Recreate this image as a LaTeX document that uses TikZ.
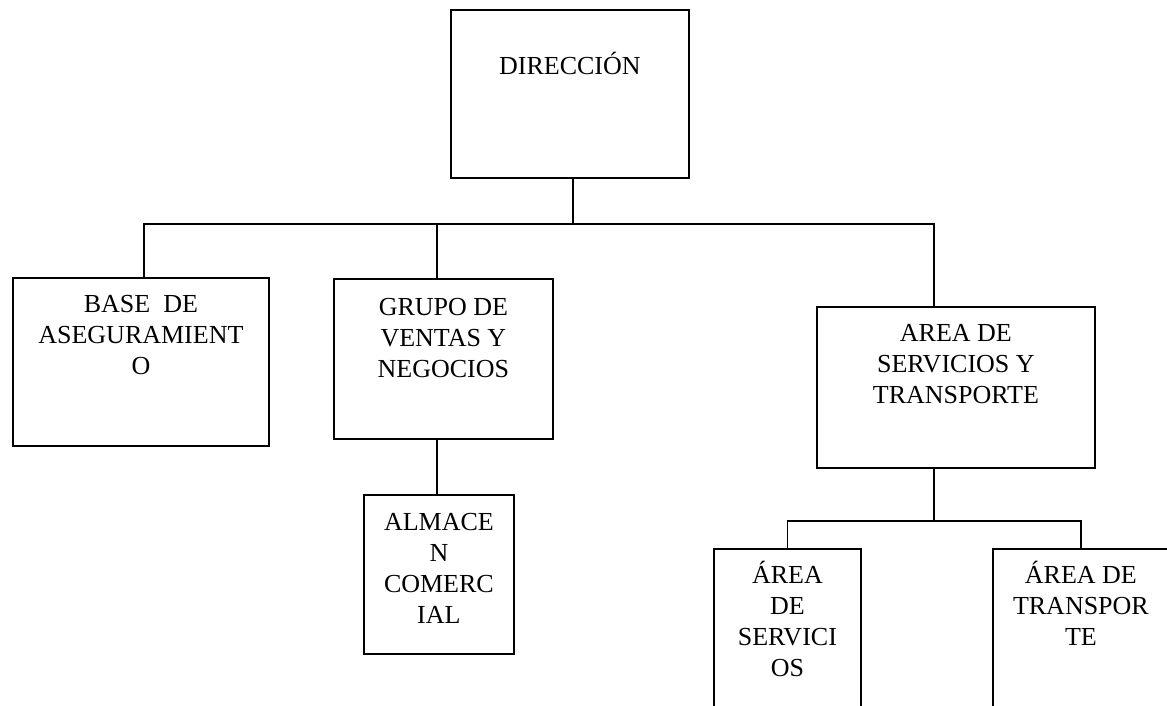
\documentclass[tikz,border=0pt]{standalone}
\usepackage{fontspec}
\setmainfont{Liberation Serif}

% text of a box: width, height, top gap, lines
\newcommand{\orgtext}[4]{\parbox[t][#2pt][t]{#1pt}{\centering\vspace*{#3pt}\rule{0pt}{24pt}#4}}

\tikzset{
  orgbox/.style={draw, line width=1.8pt, inner sep=0pt, anchor=north west,
    font=\fontsize{26}{30.8}\selectfont},
  conn/.style={line width=1.8pt}
}

\begin{document}
\begin{tikzpicture}[x=1pt, y=-1pt]
\useasboundingbox (0,0) rectangle (1167,706);
\clip (0,0) rectangle (1167,706);

\node[orgbox] (dir) at (450,9) {\orgtext{238}{168}{41}{DIRECCIÓN}};
\node[orgbox] (base) at (12,277) {\orgtext{256}{168}{11}{BASE\ \ DE\\ASEGURAMIENT\\O}};
\node[orgbox] (grupo) at (333,278) {\orgtext{219}{160}{13}{GRUPO DE\\VENTAS Y\\NEGOCIOS}};
\node[orgbox] (area) at (816,306) {\orgtext{278}{161}{11}{AREA DE\\SERVICIOS Y\\TRANSPORTE}};
\node[orgbox] (almacen) at (363,494) {\orgtext{150}{159}{12}{ALMACE\\N\\COMERC\\IAL}};
\node[orgbox] (serv) at (713,548) {\orgtext{147}{200}{11}{ÁREA\\DE\\SERVICI\\OS}};
\node[orgbox] (trans) at (992,548) {\orgtext{176}{200}{11}{ÁREA DE\\TRANSPOR\\TE}};

% where the lines meet the boxes
\coordinate (bus) at (0,224);
\coordinate (subbus) at (0,521);
\coordinate (dirout) at ([xshift=3pt]dir.south);
\coordinate (basein) at ([xshift=3pt]base.north);
\coordinate (grupoin) at ([xshift=-6.5pt]grupo.north);
\coordinate (grupoout) at ([xshift=-6.5pt]grupo.south);
\coordinate (areain) at ([xshift=-22pt]area.north);
\coordinate (areaout) at ([xshift=-22pt]area.south);

\draw[conn] (dirout) -- (dirout |- bus);
\draw[conn] (basein) -- (basein |- bus) -- (areain |- bus) -- (areain);
\draw[conn] (grupoin) -- (grupoin |- bus);
\draw[conn] (grupoout) -- (grupoout |- almacen.north);
\draw[conn] (areaout) -- (areaout |- subbus);
\draw[conn] (serv.north) -- (serv.north |- subbus) -- (trans.north |- subbus) -- (trans.north);
\end{tikzpicture}
\end{document}
